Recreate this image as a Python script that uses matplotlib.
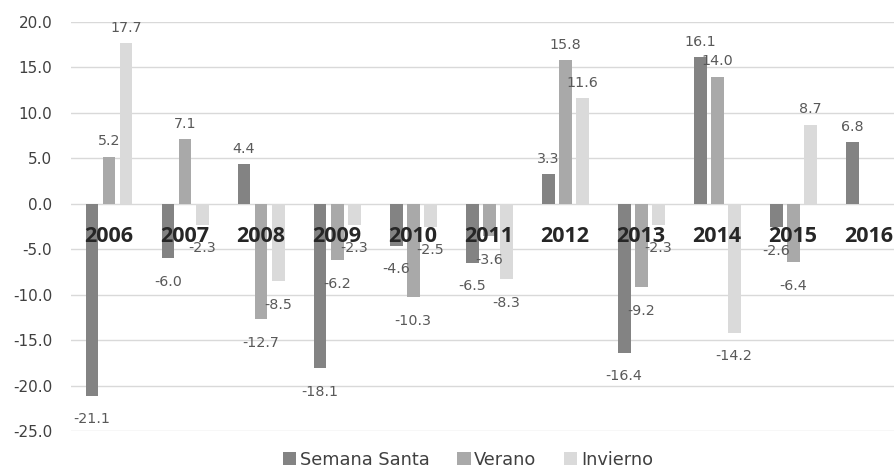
import numpy as np
import matplotlib
matplotlib.use('Agg')
import matplotlib.pyplot as plt

years = ['2006', '2007', '2008', '2009', '2010', '2011', '2012', '2013', '2014', '2015', '2016']
semana_santa = [-21.1, -6.0, 4.4, -18.1, -4.6, -6.5, 3.3, -16.4, 16.1, -2.6, 6.8]
verano = [5.2, 7.1, -12.7, -6.2, -10.3, -3.6, 15.8, -9.2, 14.0, -6.4, None]
invierno = [17.7, -2.3, -8.5, -2.3, -2.5, -8.3, 11.6, -2.3, -14.2, 8.7, None]

series_names = ['Semana Santa', 'Verano', 'Invierno']
colors = ['#838383', '#a9a9a9', '#dadada']

plt.rcParams['font.family'] = ['DejaVu Sans']
text_color = '#404040'

fig = plt.figure(figsize=(8.95, 4.7), dpi=100)
ax = fig.add_axes([71 / 895, 39 / 470, (895 - 71) / 895, (431 - 22) / 470])

x = np.arange(len(years))
width = 0.17
step = 0.224

for k, (vals, name, col) in enumerate(zip([semana_santa, verano, invierno], series_names, colors)):
    xs = [xi + (k - 1) * step for xi, v in zip(x, vals) if v is not None]
    vs = [v for v in vals if v is not None]
    ax.bar(xs, vs, width, color=col, label=name, zorder=2)
    for xi, v in zip(xs, vs):
        off = 11 if v >= 0 else -17
        ax.annotate('{0:.1f}'.format(v), (xi, v), xytext=(0, off), textcoords='offset points',
                    ha='center', va='center', fontsize=10.3, color='#595959')

# year labels just under the zero line
for xi, yr in zip(x, years):
    ax.annotate(yr, (xi, 0), xytext=(0, -23.5), textcoords='offset points',
                ha='center', va='center', fontsize=15.5, fontweight='bold', color='#262626',
                family='Open Sans')

ax.set_xlim(-0.5, 10.34)
ax.set_ylim(-25, 20)
ax.set_yticks(np.arange(-25, 20.1, 5))
ax.set_yticklabels(['{0:.1f}'.format(t) for t in np.arange(-25, 20.1, 5)], fontsize=11, color=text_color)
ax.set_xticks([])
ax.tick_params(axis='y', length=0, pad=13.5)
ax.grid(axis='y', color='#d9d9d9', lw=1, zorder=0)
for s in ax.spines.values():
    s.set_visible(False)

ax.legend(loc='center', bbox_to_anchor=(468 / 895, 10 / 470), bbox_transform=fig.transFigure,
          ncol=3, frameon=False, fontsize=12.8, handlelength=0.75, handleheight=0.75,
          handletextpad=0.2, columnspacing=1.55, labelcolor=text_color, borderpad=0)

fig.savefig('out.png', dpi=100)
